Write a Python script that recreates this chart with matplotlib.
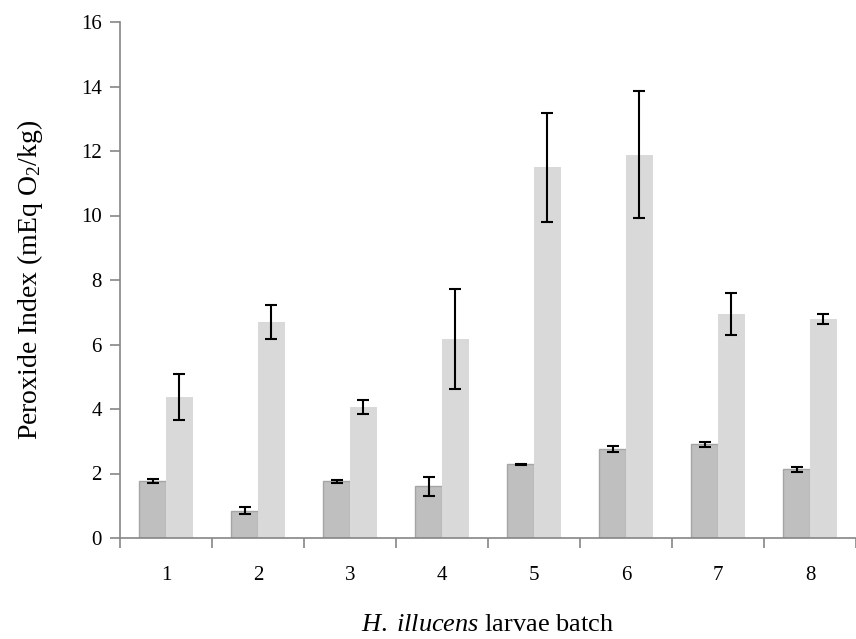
import numpy as np
import matplotlib
matplotlib.use('Agg')
from matplotlib import pyplot as plt

# Dados
lotes = ['1', '2', '3', '4', '5', '6', '7', '8']
serie_escura = [1.76, 0.85, 1.76, 1.60, 2.29, 2.76, 2.90, 2.13]
erro_escura = [0.07, 0.12, 0.05, 0.29, 0.02, 0.08, 0.09, 0.07]
serie_clara = [4.37, 6.70, 4.06, 6.18, 11.49, 11.89, 6.95, 6.80]
erro_clara = [0.72, 0.52, 0.21, 1.55, 1.70, 1.98, 0.64, 0.15]

plt.rcParams['font.family'] = ['Liberation Serif', 'DejaVu Serif']
plt.rcParams['mathtext.fontset'] = 'custom'
plt.rcParams['mathtext.rm'] = 'Liberation Serif'
plt.rcParams['mathtext.it'] = 'Liberation Serif:italic'
plt.rcParams['mathtext.default'] = 'regular'

fig = plt.figure(figsize=(8.56, 6.39), dpi=100)
ax = fig.add_axes([120/856, 1 - 538/639, 1 - 120/856, (538 - 22)/639])

x = np.arange(1, len(lotes) + 1)
w = 0.29
eb = dict(ecolor='black', elinewidth=1.5, capsize=4, capthick=1.5)
ax.bar(x - w/2, serie_escura, w, yerr=erro_escura, color='#bfbfbf',
       edgecolor='#a5a5a5', linewidth=1, error_kw=eb, zorder=2)
ax.bar(x + w/2, serie_clara, w, yerr=erro_clara, color='#d9d9d9',
       edgecolor='none', error_kw=eb, zorder=2)

ax.set_ylim(0, 16)
ax.set_xlim(0.5, 0.5 + 736/93.2)
ax.set_yticks(np.arange(0, 17, 2))
ax.set_xticks(x)
ax.set_xticklabels(lotes)
ax.set_xticks(np.arange(0.5, 9.0, 1.0), minor=True)
ax.tick_params(axis='x', which='major', length=0, pad=20, labelsize=15)
ax.tick_params(axis='x', which='minor', length=7, color='#868686', width=1.2)
ax.tick_params(axis='y', length=7, color='#868686', width=1.2, pad=6, labelsize=15)

for s in ['top', 'right']:
    ax.spines[s].set_visible(False)
for s in ['left', 'bottom']:
    ax.spines[s].set_color('#868686')
    ax.spines[s].set_linewidth(1.2)

ax.set_ylabel('Peroxide Index (mEq O$_2$/kg)', fontsize=20, labelpad=26)
ax.set_xlabel('$\\it{H.\\;illucens}$ larvae batch', fontsize=19, labelpad=21)

plt.savefig('out.png', dpi=100)
